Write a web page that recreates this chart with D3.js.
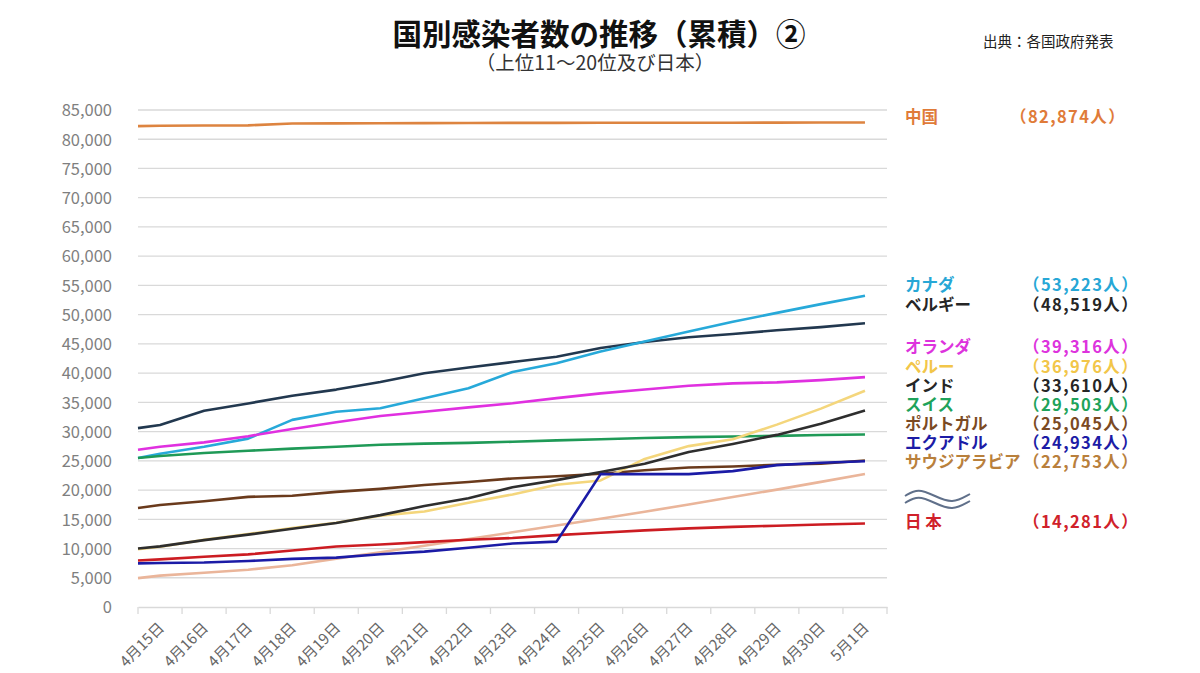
<!DOCTYPE html>
<html><head><meta charset="utf-8">
<script src="https://cdn.jsdelivr.net/npm/d3@7"></script>
<style>
html,body{margin:0;padding:0;background:#fff;}
svg{display:block;}
text{font-family:"Noto Sans CJK JP","Noto Sans",sans-serif;}
</style></head>
<body>
<svg id="chart" width="1200" height="673"></svg>
<script>
// ---------- data ----------
const dates = ["4月15日","4月16日","4月17日","4月18日","4月19日","4月20日","4月21日","4月22日","4月23日","4月24日","4月25日","4月26日","4月27日","4月28日","4月29日","4月30日","5月1日"];
const countries = ["中国","カナダ","ベルギー","オランダ","ペルー","インド","スイス","ポルトガル","エクアドル","サウジアラビア","日 本"];
const china       = [82295,82341,82367,82692,82719,82735,82747,82788,82798,82804,82816,82827,82830,82830,82836,82858,82874];
const canada      = [26200,27400,28800,32000,33400,34000,35700,37400,40200,41700,43700,45400,47100,48800,50300,51800,53223];
const belgium     = [31119,33573,34809,36138,37183,38496,39983,40956,41889,42797,44293,45325,46134,46687,47334,47859,48519];
const netherlands = [27419,28153,29214,30449,31589,32655,33405,34134,34842,35729,36535,37190,37845,38245,38416,38802,39316];
const peru        = [10303,11475,12491,13489,14420,15628,16325,17837,19250,20914,21648,25331,27517,28699,31190,33931,36976];
const india       = [10363,11439,12380,13387,14378,15712,17265,18601,20471,21700,23077,24506,26496,27892,29435,31332,33610];
const switzerland = [25834,26336,26732,27078,27404,27740,27944,28063,28268,28496,28677,28894,29061,29164,29264,29407,29503];
const portugal    = [17448,18091,18841,19022,19685,20206,20863,21379,21982,22353,22797,23392,23864,24027,24322,24505,25045];
const ecuador     = [7529,7603,7858,8225,8450,9022,9468,10128,10850,11183,22719,22719,22719,23240,24258,24675,24934];
const saudi       = [5369,5862,6380,7142,8274,9362,10484,11631,12772,13930,15102,16299,17522,18811,20077,21402,22753];
const japan       = [8150,8600,9000,9650,10350,10700,11100,11500,11800,12300,12700,13100,13450,13700,13900,14100,14281];
// value of each series on the day before the first label (drawn at the left edge)
const priorValues = [82249,25480,30589,26900,9900,10000,25480,16934,7466,4934,7950];
const yTicks = [0,5000,10000,15000,20000,25000,30000,35000,40000,45000,50000,55000,60000,65000,70000,75000,80000,85000];

// ---------- styles ----------
const seriesValues = [china,canada,belgium,netherlands,peru,india,switzerland,portugal,ecuador,saudi,japan];
const lineColors  = ["#dd8440","#27a9d9","#22384f","#e030e0","#f4d67c","#2e2e2e","#1f9a57","#6a3a1c","#1b1ba6","#eab59a","#cc1c22"];
const labelColors = ["#e07b39","#27a7d6","#262626","#dd33dd","#f2c649","#262626","#1fa35b","#7b4a23","#1c1ca6","#b9803c","#d0212a"];
const legendRowY  = [117,285,305,347,367,386,405,424,443,462,522];
const drawOrder   = [0,2,1,3,6,7,9,10,4,5,8];

const svg = d3.select("#chart");
const x = d3.scaleBand().domain(dates).range([138, 887]);
const y = d3.scaleLinear().domain([0, 85000]).range([607, 110]);
const bw = x.bandwidth();
const cx = d => x(d) + bw / 2;

// gridlines
svg.append("g").selectAll("line").data(yTicks.filter(v => v > 0)).join("line")
  .attr("x1", x.range()[0]).attr("x2", x.range()[1])
  .attr("y1", d => y(d)).attr("y2", d => y(d))
  .attr("stroke", "#d9d9d9").attr("stroke-width", 1.3);

// y axis labels
const yAxis = d3.axisLeft(y).tickValues(yTicks).tickFormat(d3.format(",")).tickSize(0).tickPadding(26);
const yg = svg.append("g").attr("transform", `translate(${x.range()[0]},0)`).call(yAxis);
yg.select(".domain").remove();
yg.selectAll("text").attr("font-family", "DejaVu Sans, sans-serif").attr("font-size", 16.5)
  .attr("fill", "#7f7f7f").attr("dy", "0.35em");

// x axis
const xAxis = d3.axisBottom(x).tickSize(0).tickPadding(0);
const xg = svg.append("g").attr("transform", `translate(0,${y(0)})`).call(xAxis);
xg.select(".domain").attr("stroke", "#d9d9d9").attr("stroke-width", 1.3);
xg.selectAll("text").attr("font-size", 15).attr("fill", "#666")
  .attr("text-anchor", "end").attr("dy", 0)
  .attr("transform", "translate(5,22) rotate(-45)");
// tick marks at band boundaries
const bounds = dates.map(d => x(d)).concat([x.range()[1]]);
svg.append("g").selectAll("line").data(bounds).join("line")
  .attr("x1", d => d).attr("x2", d => d)
  .attr("y1", y(0)).attr("y2", y(0) + 7)
  .attr("stroke", "#d9d9d9").attr("stroke-width", 1.3);

// lines
const line = d3.line().x(p => p.x).y(p => y(p.v));
drawOrder.forEach(i => {
  const pts = [{x: x.range()[0], v: priorValues[i]}]
    .concat(dates.map((d, j) => ({x: cx(d), v: seriesValues[i][j]})));
  svg.append("path").datum(pts).attr("d", line)
    .attr("fill", "none").attr("stroke", lineColors[i]).attr("stroke-width", 2.6)
    .attr("stroke-linejoin", "round");
});

// legend
const fmt = d3.format(",");
countries.forEach((c, i) => {
  const lastVal = seriesValues[i][seriesValues[i].length - 1];
  svg.append("text").attr("x", 905).attr("y", legendRowY[i]).attr("dy", "0.36em")
    .attr("font-size", 16.5).attr("font-weight", 700).attr("fill", labelColors[i]).text(c);
  svg.append("text").attr("x", i === 0 ? 1010 : 1023).attr("y", legendRowY[i]).attr("dy", "0.36em")
    .attr("font-size", 16.5).attr("font-weight", 700).attr("letter-spacing", 1.4).attr("fill", labelColors[i])
    .text("（" + fmt(lastVal) + "人）");
});
// wave (axis break) symbol
const wave = d3.line().curve(d3.curveBasis);
[0, 7].forEach(off => {
  svg.append("path")
    .attr("d", wave([[905,496+off],[918,488+off],[935,496+off],[952,504+off],[970,494+off]]))
    .attr("fill", "none").attr("stroke", "#60708a").attr("stroke-width", 2);
});

// titles
svg.append("text").attr("x", 599).attr("y", 34).attr("dy", "0.36em").attr("text-anchor", "middle")
  .attr("font-size", 29.5).attr("font-weight", 700).attr("fill", "#111").text("国別感染者数の推移（累積）②");
svg.append("text").attr("x", 595).attr("y", 63).attr("dy", "0.36em").attr("text-anchor", "middle")
  .attr("font-size", 19.5).attr("fill", "#333").text("（上位11～20位及び日本）");
svg.append("text").attr("x", 983).attr("y", 42).attr("dy", "0.36em")
  .attr("font-size", 14.5).attr("fill", "#222").text("出典：各国政府発表");
</script>
</body></html>
